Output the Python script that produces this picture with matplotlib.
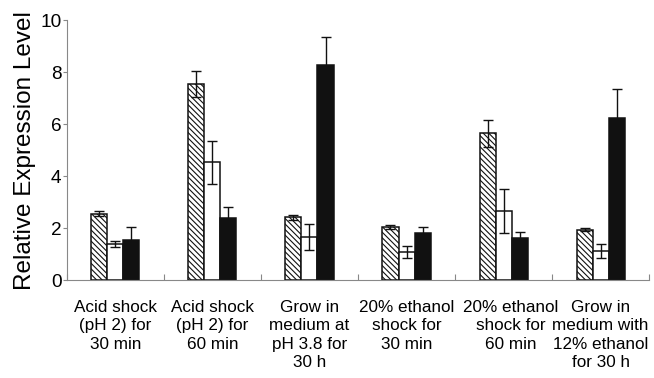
import numpy as np
import matplotlib
matplotlib.use('Agg')
import matplotlib.pyplot as plt
import matplotlib.transforms as mtransforms

plt.rcParams['font.family'] = ['Liberation Sans', 'DejaVu Sans']
plt.rcParams['hatch.linewidth'] = 0.8

conditions = [
    "Acid shock\n(pH 2) for\n30 min",
    "Acid shock\n(pH 2) for\n60 min",
    "Grow in\nmedium at\npH 3.8 for\n30 h",
    "20% ethanol\nshock for\n30 min",
    "20% ethanol\nshock for\n60 min",
    "Grow in\nmedium with\n12% ethanol\nfor 30 h",
]

hatched_vals = [2.56, 7.53, 2.42, 2.05, 5.64, 1.94]
hatched_err = [0.10, 0.50, 0.09, 0.08, 0.52, 0.07]
white_vals = [1.40, 4.53, 1.64, 1.09, 2.67, 1.13]
white_err = [0.11, 0.82, 0.50, 0.23, 0.84, 0.27]
black_vals = [1.53, 2.40, 8.27, 1.82, 1.60, 6.24]
black_err = [0.52, 0.40, 1.07, 0.24, 0.25, 1.09]

fig = plt.figure(figsize=(6.54, 3.78), dpi=100)
ax = fig.add_axes([0.1024, 0.259, 0.890, 0.688])

x = np.arange(len(conditions)) + 0.5
w = 0.165
err_kw = dict(ecolor='#111111', elinewidth=1.0, capsize=3.5, capthick=1.0)

ax.bar(x - w, hatched_vals, w, yerr=hatched_err, color='white',
       edgecolor='#111111', linewidth=1.1, hatch='\\' * 6, error_kw=err_kw)
ax.bar(x, white_vals, w, yerr=white_err, color='white',
       edgecolor='#111111', linewidth=1.1, error_kw=err_kw)
ax.bar(x + w, black_vals, w, yerr=black_err, color='#111111',
       edgecolor='#111111', linewidth=1.1, error_kw=err_kw)

ax.set_xlim(0, 6)
ax.set_ylim(0, 10)
ax.set_yticks(range(0, 11, 2))
ax.tick_params(axis='y', labelsize=13.7, length=3, color='#888888', pad=1)

# group boundaries get the small inward ticks, labels sit on group centres
ax.set_xticks(range(0, 7))
ax.set_xticklabels([])
ax.tick_params(axis='x', which='major', direction='in', length=4, color='#888888')
ax.set_xticks(x, minor=True)
ax.set_xticklabels(conditions, minor=True, fontsize=12.3, linespacing=1.3)
ax.tick_params(axis='x', which='minor', length=0, pad=14)

# the 5th label sits a little to the right in the original
lbl = ax.get_xticklabels(minor=True)[4]
lbl.set_transform(lbl.get_transform() +
                  mtransforms.ScaledTranslation(0.07, 0, fig.dpi_scale_trans))

for spine in ['top', 'right']:
    ax.spines[spine].set_visible(False)
for spine in ['left', 'bottom']:
    ax.spines[spine].set_color('#888888')

ax.set_ylabel('Relative Expression Level', fontsize=17.5, labelpad=3)

plt.savefig('out.png', dpi=100)
